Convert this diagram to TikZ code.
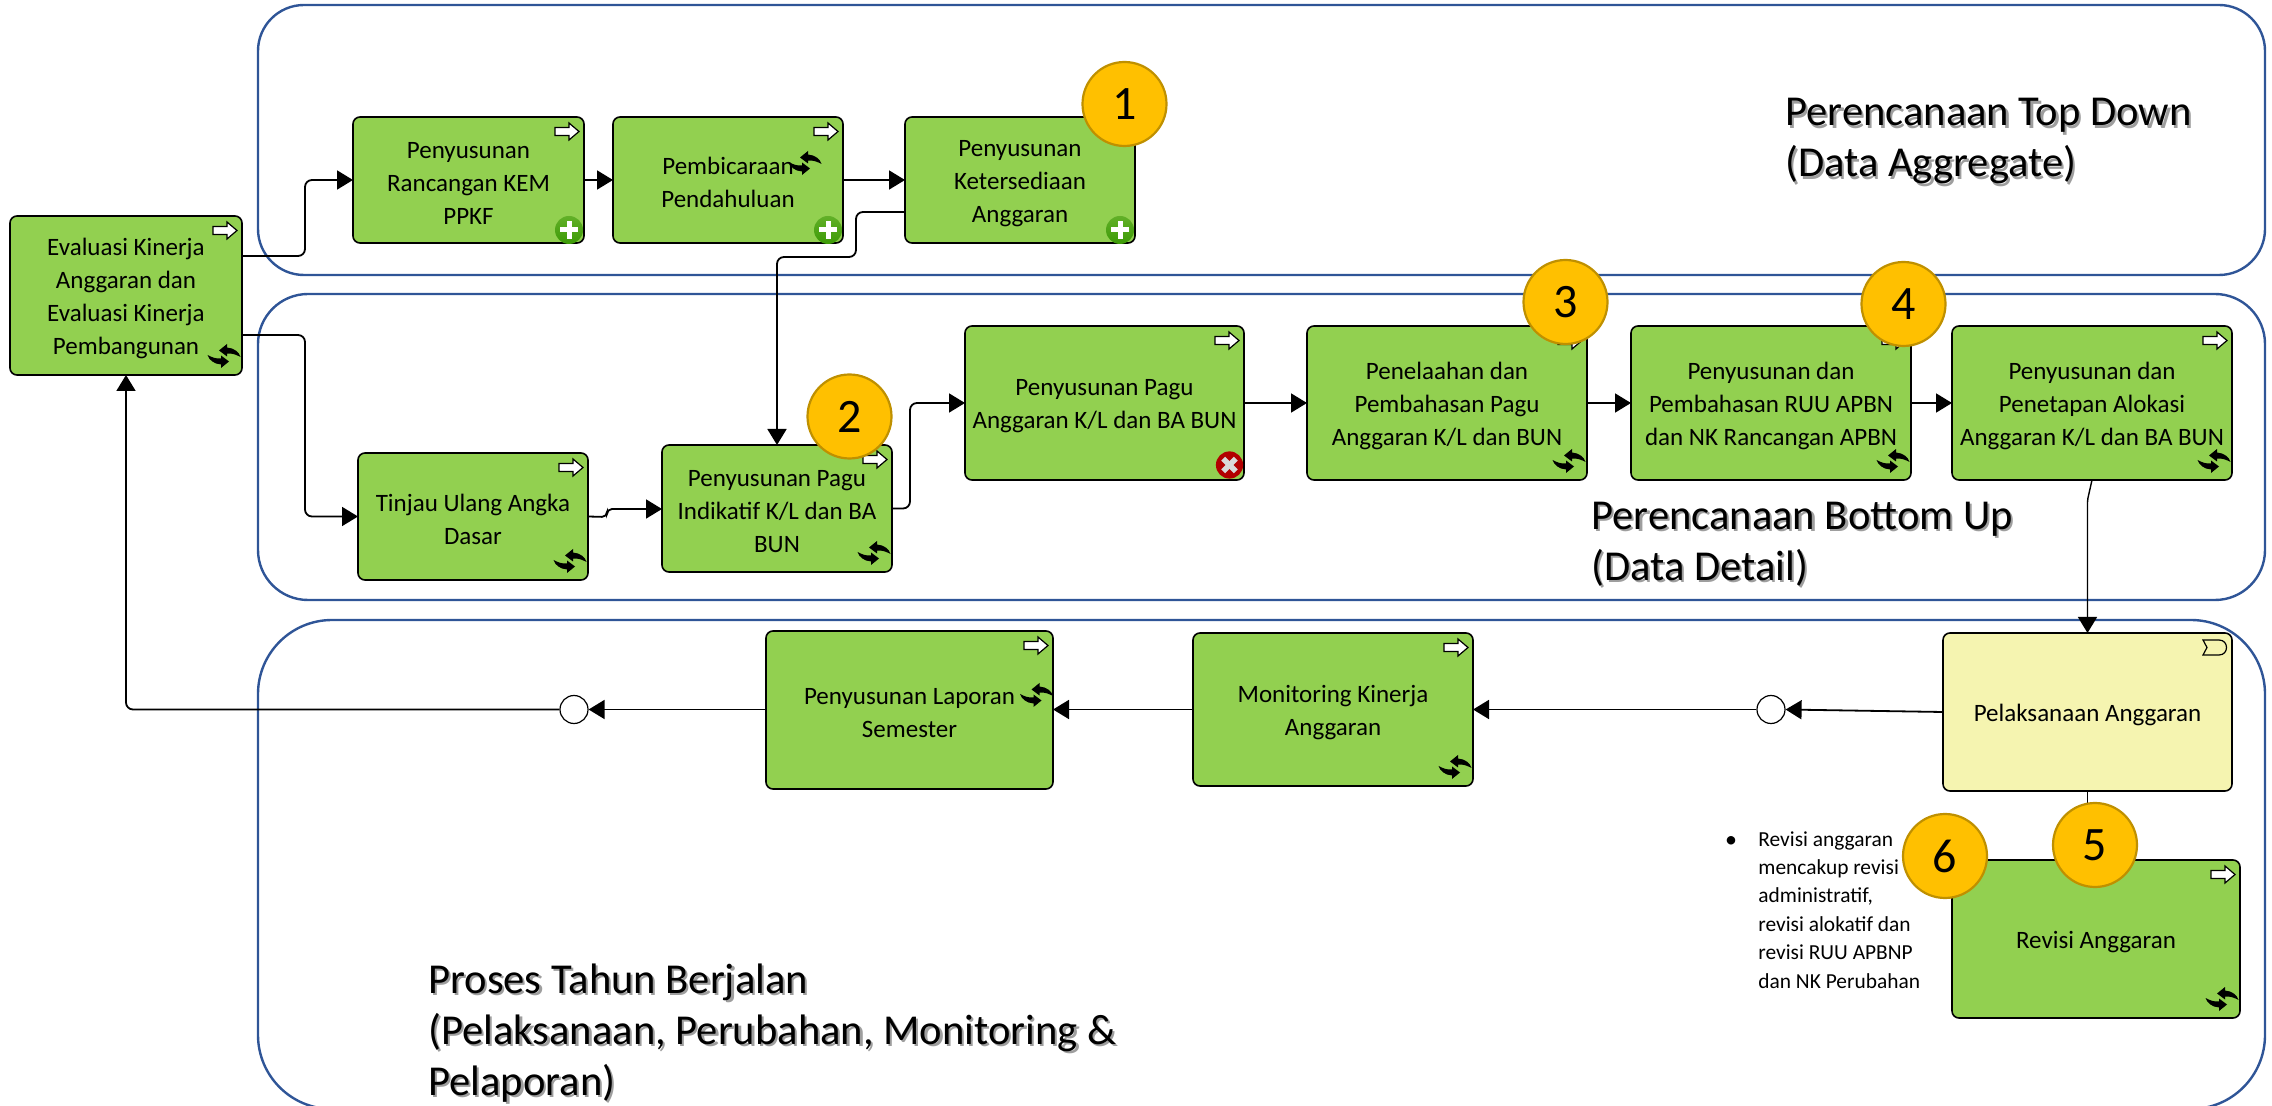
\documentclass[tikz,border=0pt]{standalone}
\usepackage{fontspec}
\setmainfont{Carlito}
\usetikzlibrary{arrows.meta,calc}
\definecolor{boxgreen}{HTML}{92D050}
\definecolor{boxyellow}{HTML}{F5F4B0}
\definecolor{regionblue}{HTML}{2F5597}
\definecolor{badgefill}{HTML}{FFC000}
\definecolor{badgeline}{HTML}{BF9000}
\definecolor{plustop}{HTML}{62B028}
\definecolor{plusbot}{HTML}{3C9A06}
\tikzset{
  region/.style={draw=regionblue,line width=1.2pt},
  tbox/.style={draw=black,line width=0.8pt,rounded corners=3.5pt,fill=boxgreen,inner sep=0pt,align=center,
    font=\fontsize{12.5}{16.5}\selectfont},
  conn/.style={draw=black,line width=0.9pt,rounded corners=3.5pt,-{Triangle[length=8pt,width=9.5pt]}},
  plain/.style={draw=black,line width=0.9pt,rounded corners=3.5pt},
  gate/.style={circle,draw=black,line width=0.6pt,fill=white,minimum size=14pt,inner sep=0pt},
  badge/.style={circle,draw=badgeline,line width=1.1pt,fill=badgefill,minimum size=42pt,inner sep=0pt,
    font=\fontsize{24}{28}\selectfont},
  biglabel/.style={inner sep=0pt,anchor=west,align=left,font=\fontsize{21.3}{25.5}\selectfont},
  flag/.pic={\draw[fill=white,draw=black,line width=0.6pt] (-12,-4)--(2,-4)--(2,-8.5)--(12,0)--(2,8.5)--(2,4)--(-12,4)--cycle;},
  cyc/.pic={
    \fill[black] (-5,-5.5)--(3,-12)--(3,-8.5) .. controls (10,-8) and (15,-4) .. (16.5,1) .. controls (12,-1.5) and (8,-2.8) .. (3,-2.5)--(3,0.5)--cycle;
    \fill[black] (5,5.5)--(-3,12)--(-3,8.5) .. controls (-10,8) and (-15,4) .. (-16.5,-1) .. controls (-12,1.5) and (-8,2.8) .. (-3,2.5)--(-3,-0.5)--cycle;
  },
  plusicon/.pic={
    \shade[top color=plustop,bottom color=plusbot,draw=none] (0,0) circle[radius=7pt];
    \fill[white] (-9,-2.5) rectangle (9,2.5);
    \fill[white] (-2.5,-9) rectangle (2.5,9);
  },
  crossicon/.pic={
    \fill[red!70!black] (0,0) circle[radius=6.8pt];
    \fill[white!85!black,rotate=45] (-9,-2.7) rectangle (9,2.7);
    \fill[white!85!black,rotate=45] (-2.7,-9) rectangle (2.7,9);
  },
}
\newcommand\bxnode[7][boxgreen]{%
  \pgfmathsetmacro\bxw{(#4-#2)*0.5}\pgfmathsetmacro\bxh{(#5-#3)*0.5}%
  \pgfmathsetmacro\bxx{(#2+#4)/2}\pgfmathsetmacro\bxy{(#3+#5)/2}%
  \node[tbox,fill=#1,outer sep=0pt,minimum width=\bxw pt,minimum height=\bxh pt] (#6) at (\bxx,\bxy) {\rule{0pt}{11.2pt}#7};}
\newcommand\shline[1]{\leavevmode\rlap{\kern1.1pt\raisebox{-1.1pt}{\textcolor{black!38}{#1}}}#1}
\begin{document}
\begin{tikzpicture}[x=0.5pt,y=-0.5pt]
\useasboundingbox (0,0) rectangle (2272,1106);
% regions
\draw[region,rounded corners=23pt] (258,5) rectangle (2265,275);
\draw[region,rounded corners=25pt] (258,294) rectangle (2265,600);
\draw[region,rounded corners=37pt] (258,620) rectangle (2265,1109);
% boxes
\bxnode{10}{216}{242}{375}{A}{Evaluasi Kinerja\\Anggaran dan\\Evaluasi Kinerja\\Pembangunan}
\bxnode{353}{117}{584}{243}{B}{Penyusunan\\Rancangan KEM\\PPKF}
\bxnode{613}{117}{843}{243}{C}{Pembicaraan\\Pendahuluan}
\bxnode{905}{117}{1135}{243}{D}{Penyusunan\\Ketersediaan\\Anggaran}
\bxnode{358}{453}{588}{580}{E}{Tinjau Ulang Angka\\Dasar}
\bxnode{662}{445}{892}{572}{F}{Penyusunan Pagu\\Indikatif K/L dan BA\\BUN}
\bxnode{965}{326}{1244}{480}{G}{Penyusunan Pagu\\Anggaran K/L dan BA BUN}
\bxnode{1307}{326}{1587}{480}{H}{Penelaahan dan\\Pembahasan Pagu\\Anggaran K/L dan BUN}
\bxnode{1631}{326}{1911}{480}{I}{Penyusunan dan\\Pembahasan RUU APBN\\dan NK Rancangan APBN}
\bxnode{1952}{326}{2232}{480}{J}{Penyusunan dan\\Penetapan Alokasi\\Anggaran K/L dan BA BUN}
\bxnode[boxyellow]{1943}{633}{2232}{791}{K}{Pelaksanaan Anggaran}
\bxnode{1952}{860}{2240}{1018}{L}{Revisi Anggaran}
\bxnode{1193}{633}{1473}{786}{M}{Monitoring Kinerja\\Anggaran}
\bxnode{766}{631}{1053}{789}{N}{Penyusunan Laporan\\Semester}
% flag icons
\foreach \n in {A,B,C,D,E,F,G,H,I,J,L,M,N}{
  \pic at ($(\n.north east)+(-17,14.5)$) {flag};
}
% cycle icons
\foreach \n in {A,E,F,H,I,J,L,M}{
  \pic at ($(\n.south east)+(-18,-19)$) {cyc};
}
\pic at (805,163) {cyc};
\pic at (1036.5,695) {cyc};
% plus / cross
\foreach \n in {B,C,D}{
  \pic at ($(\n.south east)+(-15,-13)$) {plusicon};
}
\pic at ($(G.south east)+(-14.5,-15)$) {crossicon};
% event marker on K
\draw[fill=boxyellow,draw=black,line width=0.6pt] (2203,640)--(2219,640) .. controls (2229,640) and (2229,655) .. (2219,655)--(2203,655)--(2207,647.5)--cycle;
% gateways
\node[gate] (g1) at (1771,709.5) {};
\node[gate] (g2) at (574,709.5) {};
% connectors
\draw[conn] (A.east |- 0,256) -- (305,256) -- (305,180) -- (B.west);
\draw[conn] (A.east |- 0,335) -- (305,335) -- (305,516.5) -- (E.west);
\draw[conn] (B.east) -- (C.west);
\draw[conn] (C.east) -- (D.west);
\draw[conn] (D.west |- 0,212) -- (856,212) -- (856,257) -- (F.north |- 0,257) -- (F.north);
\draw[conn,rounded corners=2.5pt] (E.east) -- (607,517) -- (607,509) -- (F.west |- 0,509);
\draw[conn] (F.east) -- (910,508.5) -- (910,403) -- (G.west);
\draw[conn] (G.east) -- (H.west);
\draw[conn] (H.east) -- (I.west);
\draw[conn] (I.east) -- (J.west);
\draw[conn,line width=0.7pt,rounded corners=1pt] (J.south) -- (K.north |- 0,500) -- (K.north);
\draw[conn] (K.west) -- (g1.east);
\draw[conn] (g1.west) -- (M.east |- g1.west);
\draw[conn] (M.west |- 0,709.5) -- (N.east |- 0,709.5);
\draw[conn] (N.west |- 0,709.5) -- (g2.east);
\draw[conn] (g2.west) -- (126,709.5) -- (A.south);
\draw[plain,line width=0.7pt] (K.south) -- (K.south |- L.north);
% badges
\node[badge] (b1) at (1124.5,104) {1};
\node[badge] (b2) at (849.5,416.5) {2};
\node[badge] (b3) at (1565.5,302) {3};
\node[badge] (b4) at (1903.5,304) {4};
\node[badge] (b5) at (2095,845) {5};
\node[badge] (b6) at (1945,856) {6};
% labels
\node[biglabel] (lt) at (1785,142.5) {\shline{Perencanaan Top Down}\\\shline{(Data Aggregate)}};
\node[biglabel] (lb) at (1591,545) {\shline{Perencanaan Bottom Up}\\\shline{(Data Detail)}};
\node[biglabel] (lp) at (428,1034) {\shline{Proses Tahun Berjalan}\\\shline{(Pelaksanaan, Perubahan, Monitoring \&}\\\shline{Pelaporan)}};
\node[inner sep=0pt,font=\fontsize{12}{14}\selectfont] (bul) at (1731,842) {•};
\node[inner sep=0pt,anchor=north west,align=left,font=\fontsize{10.7}{14.2}\selectfont] (note) at (1758,831) {Revisi anggaran\\mencakup revisi\\administratif,\\revisi alokatif dan\\revisi RUU APBNP\\dan NK Perubahan};
\end{tikzpicture}
\end{document}
